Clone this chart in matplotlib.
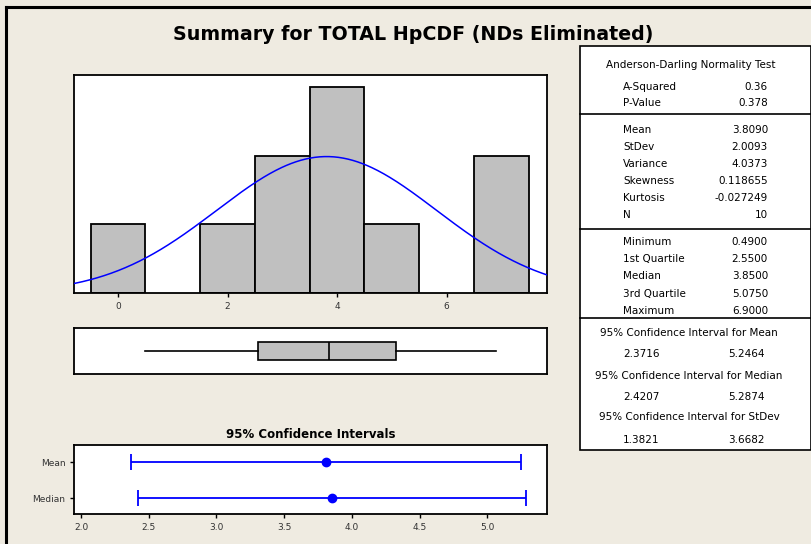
import numpy as np
import matplotlib
matplotlib.use("Agg")
import matplotlib.pyplot as plt
from matplotlib.patches import Rectangle
from matplotlib.lines import Line2D

# histogram bins (centre, count), width 1
bin_centers = [0, 2, 3, 4, 5, 7]
bin_counts = [1, 1, 2, 3, 1, 2]

# summary statistics
mean = 3.8090
stdev = 2.0093
n_obs = 10
q_min, q1, q_med, q3, q_max = 0.49, 2.55, 3.85, 5.075, 6.90

ci_labels = ["Mean", "Median"]
ci_centers = [3.8090, 3.8500]
ci_low = [2.3716, 2.4207]
ci_high = [5.2464, 5.2874]

ad_rows = [("A-Squared", "0.36"), ("P-Value", "0.378")]
moment_rows = [("Mean", "3.8090"), ("StDev", "2.0093"), ("Variance", "4.0373"),
               ("Skewness", "0.118655"), ("Kurtosis", "-0.027249"), ("N", "10")]
quart_rows = [("Minimum", "0.4900"), ("1st Quartile", "2.5500"), ("Median", "3.8500"),
              ("3rd Quartile", "5.0750"), ("Maximum", "6.9000")]
ci_rows = [("95% Confidence Interval for Mean", "2.3716", "5.2464"),
           ("95% Confidence Interval for Median", "2.4207", "5.2874"),
           ("95% Confidence Interval for StDev", "1.3821", "3.6682")]

W, H = 812, 544
bg = "#EFEBE1"
tick_col = "#333333"

fig = plt.figure(figsize=(W / 100, H / 100), dpi=100, facecolor=bg)


def fx(px):
    return px / W


def fy(py):
    return 1 - py / H


# outer frame (left and top edges visible)
fig.add_artist(Line2D([fx(6), fx(6)], [0, fy(7)], color="black", lw=2.2))
fig.add_artist(Line2D([fx(6), 1], [fy(7), fy(7)], color="black", lw=2.2))

fig.text(fx(413), fy(35), "Summary for TOTAL HpCDF (NDs Eliminated)",
         ha="center", va="center", fontsize=13.7, fontweight="bold")

xlim_hist = (-0.8, 7.84)
L, R = 74.3, 547.3

# histogram
ax1 = fig.add_axes([fx(L), fy(293.3), fx(R - L), (293.3 - 75) / H])
ax1.set_facecolor("white")
ax1.bar(bin_centers, bin_counts, width=1.0, color="#C0C0C0",
        edgecolor="black", linewidth=1.3, zorder=2)
xs = np.linspace(xlim_hist[0], xlim_hist[1], 400)
pdf = n_obs * 1.0 * np.exp(-0.5 * ((xs - mean) / stdev) ** 2) / (stdev * np.sqrt(2 * np.pi))
ax1.plot(xs, pdf, color="#0000FF", lw=1.1, zorder=3)
ax1.set_xlim(*xlim_hist)
ax1.set_ylim(0, 3.17)
ax1.set_yticks([])
ax1.set_xticks([0, 2, 4, 6])
ax1.tick_params(axis="x", labelsize=6.5, colors="black", labelcolor=tick_col,
                length=3, width=1)
for s in ax1.spines.values():
    s.set_linewidth(1.3)

# boxplot on same scale as histogram
ax2 = fig.add_axes([fx(L), fy(374.3), fx(R - L), (374.3 - 328) / H])
ax2.set_facecolor("white")
ax2.bxp([{"med": q_med, "q1": q1, "q3": q3, "whislo": q_min, "whishi": q_max,
          "fliers": []}],
        positions=[0.5], widths=0.375, vert=False, patch_artist=True,
        showcaps=False,
        boxprops=dict(facecolor="#C0C0C0", edgecolor="black", linewidth=1.2),
        medianprops=dict(color="black", linewidth=1.2),
        whiskerprops=dict(color="black", linewidth=1.2))
ax2.set_xlim(*xlim_hist)
ax2.set_ylim(0, 1)
ax2.set_xticks([])
ax2.set_yticks([])
for s in ax2.spines.values():
    s.set_linewidth(1.3)

# confidence intervals
ax3 = fig.add_axes([fx(L), fy(514.3), fx(R - L), (514.3 - 445) / H])
ax3.set_facecolor("white")
ypos = [2, 1]
for yv, c, lo, hi in zip(ypos, ci_centers, ci_low, ci_high):
    ax3.errorbar([c], [yv], xerr=[[c - lo], [hi - c]], fmt="o", color="#0000FF",
                 ms=6, capsize=6, capthick=1.3, elinewidth=1.3)
ax3.set_xlim(1.95, 5.444)
ax3.set_ylim(0.555, 2.482)
ax3.set_yticks(ypos)
ax3.set_yticklabels(ci_labels)
ax3.set_xticks([2.0, 2.5, 3.0, 3.5, 4.0, 4.5, 5.0])
ax3.set_xticklabels(["2.0", "2.5", "3.0", "3.5", "4.0", "4.5", "5.0"])
ax3.tick_params(labelsize=6.5, labelcolor=tick_col, length=3, width=1)
ax3.set_title("95% Confidence Intervals", fontsize=8.5, fontweight="bold", pad=5)
for s in ax3.spines.values():
    s.set_linewidth(1.3)

# statistics table
tl, tr, tt, tb = 580, 811, 46, 450
fig.add_artist(Rectangle((fx(tl), fy(tb)), fx(tr - tl), (tb - tt) / H,
                         facecolor="white", edgecolor="black", lw=1.2,
                         transform=fig.transFigure))
for sep in [114, 228.5, 318.3]:
    fig.add_artist(Line2D([fx(tl), fx(tr)], [fy(sep), fy(sep)], color="black", lw=1.2))

fs = 7.5
lab_x, val_x = fx(623), fx(768)
fig.text(fx(691), fy(65), "Anderson-Darling Normality Test", ha="center", va="center", fontsize=fs)
for (lab, val), py in zip(ad_rows, [87.3, 103.3]):
    fig.text(lab_x, fy(py), lab, ha="left", va="center", fontsize=fs)
    fig.text(val_x, fy(py), val, ha="right", va="center", fontsize=fs)
for (lab, val), py in zip(moment_rows, [130, 147, 164, 181, 198.3, 215]):
    fig.text(lab_x, fy(py), lab, ha="left", va="center", fontsize=fs)
    fig.text(val_x, fy(py), val, ha="right", va="center", fontsize=fs)
for (lab, val), py in zip(quart_rows, [242.3, 259.3, 275.7, 293.7, 311]):
    fig.text(lab_x, fy(py), lab, ha="left", va="center", fontsize=fs)
    fig.text(val_x, fy(py), val, ha="right", va="center", fontsize=fs)
for (head, lo, hi), ph, pv in zip(ci_rows, [332.7, 376, 416.7], [354, 396.7, 440]):
    fig.text(fx(689), fy(ph), head, ha="center", va="center", fontsize=fs)
    fig.text(lab_x, fy(pv), lo, ha="left", va="center", fontsize=fs)
    fig.text(fx(728), fy(pv), hi, ha="left", va="center", fontsize=fs)

fig.savefig("out.png", dpi=100, facecolor=bg)
